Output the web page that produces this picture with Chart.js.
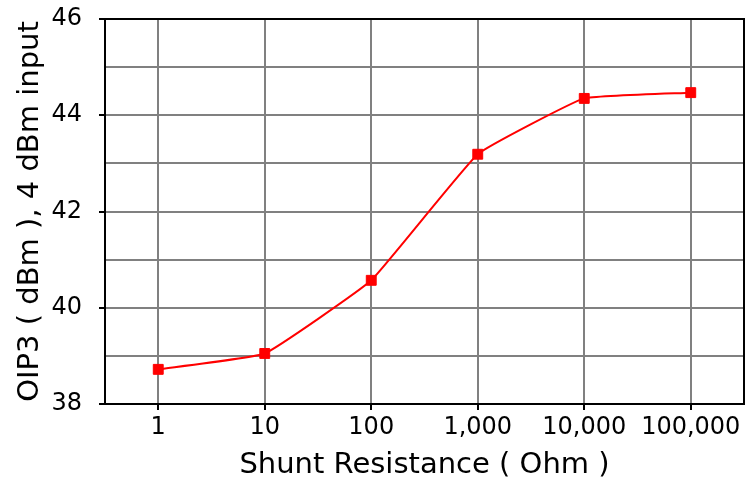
<!DOCTYPE html>
<html>
<head>
<meta charset="utf-8">
<script src="https://cdn.jsdelivr.net/npm/chart.js@4.4.1/dist/chart.umd.min.js"></script>
<style>
  html, body { margin: 0; padding: 0; background: #fff; overflow: hidden; }
  canvas { display: block; }
</style>
</head>
<body>
<canvas id="grafico" width="745" height="486"></canvas>
<script>
const resistencias = ['1', '10', '100', '1,000', '10,000', '100,000'];
const oip3 = [38.72, 39.05, 40.57, 43.19, 44.35, 44.47];
const etiquetasY = [38, 40, 42, 44, 46];

// marco negro alrededor del area del grafico
const marco = {
    id: 'marco',
    afterDraw(chart) {
        const a = chart.chartArea;
        const ctx = chart.ctx;
        ctx.save();
        ctx.strokeStyle = '#000';
        ctx.lineWidth = 2;
        ctx.strokeRect(a.left, a.top, a.right - a.left, a.bottom - a.top);
        ctx.restore();
    }
};

const ctx = document.getElementById('grafico').getContext('2d');
new Chart(ctx, {
    type: 'line',
    data: {
        labels: resistencias,
        datasets: [{
            label: 'OIP3',
            data: oip3,
            borderColor: '#ff0000',
            backgroundColor: '#ff0000',
            borderWidth: 2,
            pointStyle: 'rect',
            pointRadius: 7,
            pointHoverRadius: 7,
            pointBorderWidth: 1,
            tension: 0.1
        }]
    },
    plugins: [marco],
    options: {
        responsive: false,
        animation: false,
        layout: { autoPadding: false, padding: { top: 19, right: 1, left: 0, bottom: 0 } },
        plugins: {
            legend: { display: false },
            tooltip: { enabled: false }
        },
        scales: {
            x: {
                offset: true,
                afterFit: s => { s.height = 82; s.paddingLeft = 0; s.paddingRight = 0; },
                grid: { color: '#808080', lineWidth: 2, tickLength: 6, tickColor: '#000' },
                border: { display: false },
                ticks: {
                    color: '#000',
                    padding: 3,
                    maxRotation: 0,
                    autoSkip: false,
                    font: { family: 'DejaVu Sans', size: 24 }
                },
                title: {
                    display: true,
                    text: 'Shunt Resistance ( Ohm )',
                    color: '#000',
                    padding: { top: 0, bottom: 3 },
                    font: { family: 'DejaVu Sans', size: 29 }
                }
            },
            y: {
                min: 38,
                max: 46,
                afterFit: s => { s.width = 105; s.paddingTop = 0; s.paddingBottom = 0; },
                grid: {
                    color: '#808080',
                    lineWidth: 2,
                    tickLength: 6,
                    tickColor: c => etiquetasY.includes(c.tick.value) ? '#000' : 'rgba(0,0,0,0)'
                },
                border: { display: false },
                ticks: {
                    stepSize: 1,
                    color: '#000',
                    padding: 17,
                    font: { family: 'DejaVu Sans', size: 24 },
                    callback: v => etiquetasY.includes(v) ? String(v) : ''
                },
                title: {
                    display: true,
                    text: 'OIP3 ( dBm ), 4 dBm input',
                    color: '#000',
                    padding: { top: 13, bottom: 0 },
                    font: { family: 'DejaVu Sans', size: 29 }
                }
            }
        }
    }
});
</script>
</body>
</html>
